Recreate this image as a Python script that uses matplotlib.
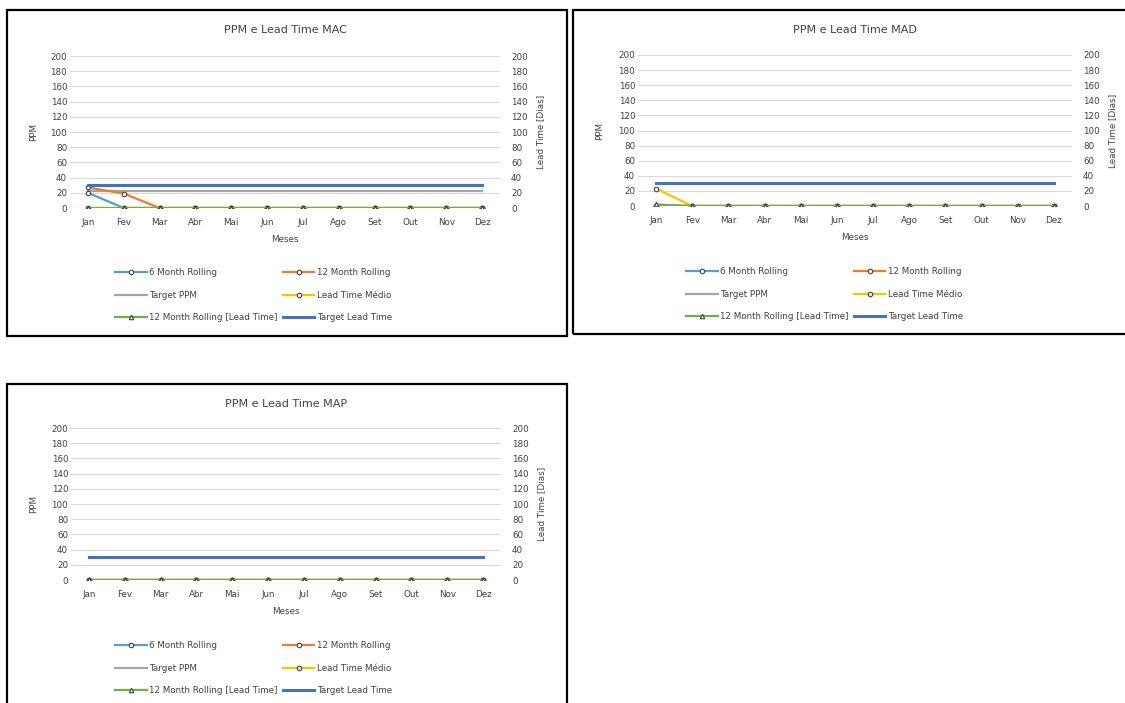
import matplotlib.pyplot as plt
from matplotlib.lines import Line2D
from matplotlib.patches import Rectangle

W, H = 1125, 703

meses = ["Jan", "Fev", "Mar", "Abr", "Mai", "Jun", "Jul", "Ago", "Set", "Out", "Nov", "Dez"]

# MAC
mac_6m = [20, 0, 0, 0, 0, 0, 0, 0, 0, 0, 0, 0]
mac_12m = [27, 19, 0, 0, 0, 0, 0, 0, 0, 0, 0, 0]
mac_target_ppm = [23, 23, 23, 23, 23, 23, 23, 23, 23, 23, 23, 23]
mac_lt_medio = [0, 0, 0, 0, 0, 0, 0, 0, 0, 0, 0, 0]
mac_12m_lt = [0, 0, 0, 0, 0, 0, 0, 0, 0, 0, 0, 0]
mac_target_lt = [30, 30, 30, 30, 30, 30, 30, 30, 30, 30, 30, 30]

# MAD
mad_6m = [0, 0, 0, 0, 0, 0, 0, 0, 0, 0, 0, 0]
mad_12m = [0, 0, 0, 0, 0, 0, 0, 0, 0, 0, 0, 0]
mad_target_ppm = [0, 0, 0, 0, 0, 0, 0, 0, 0, 0, 0, 0]
mad_lt_medio = [23, 0, 0, 0, 0, 0, 0, 0, 0, 0, 0, 0]
mad_12m_lt = [2, 0, 0, 0, 0, 0, 0, 0, 0, 0, 0, 0]
mad_target_lt = [30, 30, 30, 30, 30, 30, 30, 30, 30, 30, 30, 30]

# MAP
map_6m = [0, 0, 0, 0, 0, 0, 0, 0, 0, 0, 0, 0]
map_12m = [0, 0, 0, 0, 0, 0, 0, 0, 0, 0, 0, 0]
map_target_ppm = [0, 0, 0, 0, 0, 0, 0, 0, 0, 0, 0, 0]
map_lt_medio = [0, 0, 0, 0, 0, 0, 0, 0, 0, 0, 0, 0]
map_12m_lt = [0, 0, 0, 0, 0, 0, 0, 0, 0, 0, 0, 0]
map_target_lt = [30, 30, 30, 30, 30, 30, 30, 30, 30, 30, 30, 30]

C_6M = "#5B9BD5"
C_12M = "#ED7D31"
C_TPPM = "#A5A5A5"
C_LT = "#FFC000"
C_12MLT = "#70AD47"
C_TLT = "#4472C4"
TXT = "#404040"
FS = 6.3


def frac(x0, y0, x1, y1):
    """pixel box (top-left origin) -> figure fraction [l, b, w, h]"""
    return [x0 / W, 1 - y1 / H, (x1 - x0) / W, (y1 - y0) / H]


def draw_panel(fig, box, axbox, leg_xy, title, s6, s12, tppm, ltm, s12lt, tlt):
    fig.patches.append(Rectangle((box[0] / W, 1 - box[3] / H), (box[2] - box[0]) / W,
                                 (box[3] - box[1]) / H, transform=fig.transFigure,
                                 fill=False, edgecolor="black", linewidth=1.6, zorder=0))

    ax = fig.add_axes(frac(*axbox))
    ax2 = ax.twinx()
    x = range(len(meses))
    mk = dict(marker="o", markersize=3.2, markerfacecolor="white",
              markeredgecolor="#404040", markeredgewidth=0.8)

    ax.plot(x, tppm, color=C_TPPM, lw=1.6, zorder=3)
    ax.plot(x, s6, color=C_6M, lw=1.6, zorder=4, **mk)
    ax.plot(x, s12, color=C_12M, lw=1.6, zorder=4, **mk)

    ax2.plot(x, ltm, color=C_LT, lw=1.6, zorder=3, **mk)
    ax2.plot(x, s12lt, color=C_12MLT, lw=1.6, zorder=4, marker="^", markersize=3.2,
             markerfacecolor="white", markeredgecolor="#404040", markeredgewidth=0.8)
    ax2.plot(x, tlt, color=C_TLT, lw=2.2, zorder=5)

    for a in (ax, ax2):
        a.set_ylim(0, 200)
        a.set_yticks(range(0, 201, 20))
        a.set_xlim(-0.5, len(meses) - 0.5)
        for sp in a.spines.values():
            sp.set_visible(False)
        a.patch.set_visible(False)
    ax.set_zorder(1)
    ax2.set_zorder(2)

    ax.grid(axis="y", color="#D9D9D9", lw=0.8)
    ax.set_axisbelow(True)
    ax.set_xticks(list(x))
    ax.set_xticklabels(meses)
    ax.tick_params(axis="x", length=0, pad=7, labelsize=FS, labelcolor=TXT)
    ax.tick_params(axis="y", length=0, pad=2, labelsize=FS, labelcolor=TXT)
    ax2.tick_params(axis="y", length=0, pad=8, labelsize=FS, labelcolor=TXT)

    w_px = axbox[2] - axbox[0]
    h_px = axbox[3] - axbox[1]
    ax.set_ylabel("PPM", fontsize=FS, color=TXT)
    ax.yaxis.set_label_coords((box[0] + 31 - axbox[0]) / w_px, 0.5)
    ax2.set_ylabel("Lead Time [Dias]", fontsize=FS, color=TXT)
    ax2.yaxis.set_label_coords((axbox[2] + 36 - axbox[0]) / w_px, 0.5)
    ax.set_xlabel("Meses", fontsize=FS, color=TXT)
    ax.xaxis.set_label_coords(0.5, -27 / h_px)
    ax.set_title(title, fontsize=8, color=TXT, y=1 + (axbox[1] - box[1] - 20) / h_px,
                 va="center", pad=0)

    def h(color, lw=1.6, marker=None):
        return Line2D([], [], color=color, lw=lw, marker=marker, markersize=3.2,
                      markerfacecolor="white", markeredgecolor="#404040", markeredgewidth=0.8)

    handles = [h(C_6M, marker="o"), h(C_TPPM), h(C_12MLT, marker="^"),
               h(C_12M, marker="o"), h(C_LT, marker="o"), h(C_TLT, lw=2.2)]
    labels = ["6 Month Rolling", "Target PPM", "12 Month Rolling [Lead Time]",
              "12 Month Rolling", "Lead Time Médio", "Target Lead Time"]
    fig.legend(handles, labels, ncol=2, loc="upper left",
               bbox_to_anchor=(leg_xy[0] / W, 1 - (leg_xy[1] - 5) / H),
               bbox_transform=fig.transFigure, frameon=False, fontsize=FS,
               handlelength=3.6, handletextpad=0.3, columnspacing=0.6,
               labelspacing=1.55, borderpad=0, borderaxespad=0, labelcolor=TXT)


fig = plt.figure(figsize=(W / 100, H / 100), dpi=100)

draw_panel(fig, (7, 10, 567, 336), (70, 56, 500, 208), (115, 273), "PPM e Lead Time MAC",
           mac_6m, mac_12m, mac_target_ppm, mac_lt_medio, mac_12m_lt, mac_target_lt)
draw_panel(fig, (573, 10, 1130, 334), (638, 55, 1072, 206), (686, 272), "PPM e Lead Time MAD",
           mad_6m, mad_12m, mad_target_ppm, mad_lt_medio, mad_12m_lt, mad_target_lt)
draw_panel(fig, (7, 384, 567, 712), (71, 428, 501, 580), (115, 646), "PPM e Lead Time MAP",
           map_6m, map_12m, map_target_ppm, map_lt_medio, map_12m_lt, map_target_lt)

fig.savefig("out.png", dpi=100)
